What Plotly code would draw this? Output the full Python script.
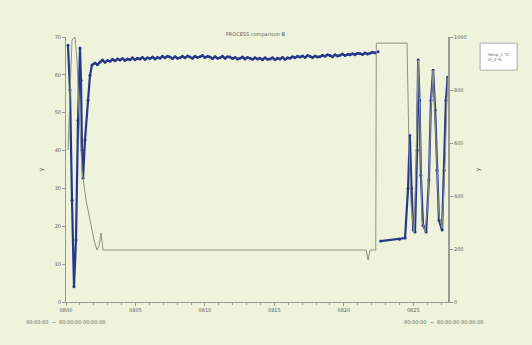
import plotly.graph_objects as go

# ---- data ----
x_ticks = [0, 200, 400, 600, 800, 1000]
x_tick_labels = ["0800", "0805", "0810", "0815", "0820", "0825"]
left_ticks = [0, 10, 20, 30, 40, 50, 60, 70]
right_ticks = [0, 200, 400, 600, 800, 1000]

s1_x = [5.8, 11.5, 17.3, 23.0, 28.8, 34.6, 40.3, 43.2, 46.1, 49.0, 54.7, 63.4, 69.1, 74.9,
        83.5, 90.7, 97.9, 105.1, 112.3, 119.5, 126.7, 133.9, 141.1, 148.3, 155.5, 162.7,
        169.9, 177.1, 184.3, 191.5, 198.7, 205.9, 213.1, 220.3, 227.5, 234.7, 241.9, 249.1,
        256.3, 263.5, 270.7, 277.9, 285.1, 292.3, 299.5, 306.7, 313.9, 321.1, 328.3, 335.5,
        342.7, 349.9, 357.1, 364.3, 371.5, 378.7, 385.9, 393.1, 400.3, 407.5, 414.7, 421.9,
        429.1, 436.3, 443.5, 450.7, 457.9, 465.1, 472.3, 479.5, 486.7, 493.9, 501.1, 508.3,
        515.5, 522.7, 529.9, 537.1, 544.3, 551.5, 558.7, 565.9, 573.1, 580.3, 587.5, 594.7,
        601.9, 609.1, 616.3, 623.5, 630.7, 637.9, 645.1, 652.3, 659.5, 666.7, 673.9, 681.1,
        688.3, 695.5, 702.7, 709.9, 717.1, 724.3, 731.5, 738.7, 745.9, 753.1, 760.3, 767.5,
        774.7, 781.9, 789.1, 796.3, 803.5, 810.7, 817.9, 825.1, 832.3, 839.5, 846.7, 853.9,
        861.1, 868.3, 875.5, 882.7, 889.9, 898.6,
        901.0,
        906.0, 960.0, 976.3, 985.0, 990.0, 995.0, 1000.0, 1005.0, 1011.0, 1014.0, 1018.0,
        1022.0, 1028.0, 1037.0, 1045.0, 1051.0, 1057.0, 1063.0, 1068.0, 1074.0, 1083.0,
        1089.0, 1094.0, 1099.0]
s1_y = [67.8, 56.0, 26.9, 4.0, 16.4, 48.0, 67.1, 58.6, 40.1, 32.7, 42.8, 53.3, 59.9, 62.6,
        63.1, 62.7, 63.4, 63.9, 63.3, 63.8, 63.6, 64.1, 63.7, 64.2, 63.9, 64.3,
        63.8, 64.2, 64.0, 64.5, 64.0, 64.4, 64.2, 64.6, 64.1, 64.5, 64.3, 64.7,
        64.2, 64.6, 64.4, 64.9, 64.5, 64.9, 64.7, 64.3, 64.8, 64.4, 64.5, 64.9,
        64.5, 65.0, 64.7, 64.4, 64.9, 64.6, 64.8, 65.1, 64.6, 64.9, 64.7, 64.3,
        64.8, 64.4, 64.5, 64.9, 64.4, 64.8, 64.7, 64.3, 64.6, 64.2, 64.4, 64.7,
        64.2, 64.6, 64.4, 64.1, 64.5, 64.2, 64.4, 64.0, 64.5, 64.1, 64.2, 64.5,
        64.0, 64.4, 64.2, 64.6, 64.1, 64.5, 64.4, 64.8, 64.5, 64.9, 64.7, 65.0,
        64.6, 65.1, 64.9, 64.6, 65.0, 64.7, 64.8, 65.2, 64.9, 65.3, 65.1, 64.8,
        65.3, 65.0, 65.2, 65.5, 65.1, 65.4, 65.3, 65.6, 65.3, 65.7, 65.6, 65.4,
        65.8, 65.5, 65.7, 66.0, 65.8, 66.1,
        None,
        16.1, 16.6, 16.9, 30.0, 44.0, 30.0, 19.0, 18.5, 40.1, 63.9, 53.3,
        33.5, 20.3, 18.5, 32.2, 53.3, 61.2, 50.7, 34.8, 21.6, 19.0,
        34.8, 53.3, 59.4]

s2_x = [5.8, 11.5, 17.3, 25.9, 31.7, 37.4, 46.1, 57.6, 69.1, 80.6, 89.3, 95.0, 100.8, 106.6,
        864.5, 869.8, 875.5, 892.0, 893.5, 982.0, 987.8, 993.6, 1002.0, 1008.0,
        1014.0, 1020.0, 1025.0, 1034.0, 1043.0, 1051.0, 1057.0, 1066.0, 1074.0, 1083.0,
        1092.0, 1097.0, 1100.0]
s2_y = [573.6, 800.0, 988.8, 1000.0, 913.0, 724.6, 498.1, 384.9, 301.9, 234.0, 196.2, 211.3,
        260.4, 196.2, 196.2, 158.5, 196.2, 196.2, 977.0, 977.0, 573.6, 366.0,
        264.0, 536.0, 913.0, 649.0, 309.0, 264.0, 385.0, 724.6, 875.6, 611.0, 328.0, 279.0,
        536.0, 762.0, 849.0]

series_names = ["temp_1 °C", "rh_2 %"]
title_text = "PROCESS comparison B"
left_title = "y"
right_title = "y"
footer_left = "00:00:00  ~  00:00:00 00:00:00"
footer_right = "00:00:00  ~  00:00:00 00:00:00"

BG = "#eff3dc"
AX = "#9a9c94"
TXT = "#5a5c58"

fig = go.Figure()
fig.add_trace(go.Scatter(
    x=s1_x, y=s1_y, name=series_names[0], mode="lines+markers", connectgaps=False,
    line=dict(color="#26388a", width=2.2), marker=dict(size=3, color="#26388a"),
    yaxis="y"))
fig.add_trace(go.Scatter(
    x=s2_x, y=s2_y, name=series_names[1], mode="lines",
    line=dict(color="#8e9286", width=1), yaxis="y2"))

tickfont = dict(size=5, color=TXT)
fig.update_layout(
    width=532, height=345,
    paper_bgcolor=BG, plot_bgcolor=BG,
    margin=dict(l=66, r=84, t=37, b=43, autoexpand=False),
    font=dict(family="DejaVu Sans", size=5, color=TXT),
    title=dict(text=title_text, x=0.48, xanchor="center", y=0.9, yanchor="middle",
               font=dict(size=5, color=TXT)),
    showlegend=False,
    xaxis=dict(range=[0, 1100], tickvals=x_ticks, ticktext=x_tick_labels,
               showgrid=False, zeroline=False, showline=True, linecolor=AX, linewidth=1,
               ticks="outside", ticklen=3, tickcolor=AX, tickfont=tickfont,
               minor=dict(ticks="outside", ticklen=2, dtick=40, tickcolor=AX)),
    yaxis=dict(range=[0, 70], tickvals=left_ticks, showgrid=False, zeroline=False,
               showline=True, linecolor=AX, linewidth=1, ticks="outside", ticklen=3,
               tickcolor=AX, tickfont=tickfont,
               title=dict(text=left_title, font=dict(size=6, color=TXT), standoff=10)),
    yaxis2=dict(range=[0, 1000], tickvals=right_ticks, overlaying="y", side="right",
                showgrid=False, zeroline=False, showline=True, linecolor=AX, linewidth=2,
                ticks="outside", ticklen=3, tickcolor=AX, tickfont=tickfont,
                title=dict(text=right_title, font=dict(size=6, color=TXT), standoff=10)),
    shapes=[
        dict(type="rect", xref="paper", yref="paper", x0=1.084, x1=1.181, y0=0.875, y1=0.977,
             fillcolor="#ffffff", line=dict(color="#aaaaaa", width=1)),
    ],
    annotations=[
        dict(text=series_names[0] + "<br>" + series_names[1], xref="paper", yref="paper",
             x=1.1325, y=0.926, xanchor="center", yanchor="middle", align="left",
             showarrow=False, font=dict(size=4, color=TXT)),
        dict(text=footer_left, xref="paper", yref="paper", x=-0.11, y=-0.055,
             xanchor="left", yanchor="top", showarrow=False, font=dict(size=5, color=TXT)),
        dict(text=footer_right, xref="paper", yref="paper", x=0.88, y=-0.055,
             xanchor="left", yanchor="top", showarrow=False, font=dict(size=5, color=TXT)),
    ],
)

fig.write_html("out.html")
